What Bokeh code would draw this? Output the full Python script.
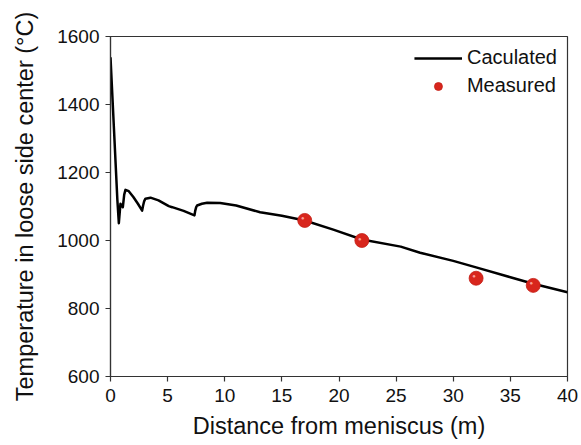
from bokeh.plotting import figure
from bokeh.models import Range1d, Legend, LegendItem, FixedTicker
from bokeh.embed import file_html
from bokeh.resources import INLINE

# Calculated curve
calc_x = [0, 0.3, 0.6, 0.73, 0.87, 1.08, 1.2, 1.31, 1.6, 2.0, 2.4, 2.77, 2.85, 2.95, 3.06, 3.5, 4.2, 5.1, 5.4, 6.4,
          7.35, 7.42, 7.5, 7.58, 8.0, 8.46, 9.6, 11, 13.1, 15, 17, 19.5, 22, 25.4, 27.1, 30, 32, 35, 37, 40]
calc_y = [1539, 1330, 1120, 1051, 1108, 1098, 1135, 1149, 1145, 1128, 1108, 1088, 1102, 1116, 1123, 1126, 1118, 1101, 1098, 1087,
          1074, 1088, 1098, 1103, 1108, 1111, 1110, 1103, 1083, 1073, 1059, 1032, 1003, 982, 964, 940, 921, 892, 873, 848]

# Measured points
meas_x = [17, 22, 32, 37]
meas_y = [1059, 1000, 889, 868]

x_ticks = [0, 5, 10, 15, 20, 25, 30, 35, 40]
y_ticks = [600, 800, 1000, 1200, 1400, 1600]

FONT = "Liberation Sans"

p = figure(width=581, height=445, output_backend="svg", toolbar_location=None,
           x_range=Range1d(0, 40), y_range=Range1d(600, 1600),
           min_border_left=110, min_border_right=14, min_border_top=36, min_border_bottom=69)
p.xgrid.visible = False
p.ygrid.visible = False
p.outline_line_color = "#333333"
p.outline_line_width = 1.2
p.background_fill_color = "white"

for ax in (p.xaxis[0], p.yaxis[0]):
    ax.axis_line_color = "#333333"
    ax.axis_line_width = 1.2
    ax.major_tick_line_color = "#333333"
    ax.major_tick_line_width = 1.2
    ax.major_tick_out = 5
    ax.major_tick_in = 0
    ax.minor_tick_line_color = None
    ax.major_label_text_font = FONT
    ax.major_label_text_font_size = "19px"
    ax.major_label_text_color = "#111111"
    ax.axis_label_text_font = FONT
    ax.axis_label_text_font_size = "23.5px"
    ax.axis_label_text_font_style = "normal"
    ax.axis_label_text_color = "#111111"

p.xaxis[0].ticker = FixedTicker(ticks=x_ticks)
p.yaxis[0].ticker = FixedTicker(ticks=y_ticks)
p.xaxis[0].axis_label = "Distance from meniscus (m)"
p.yaxis[0].axis_label = "Temperature in loose side center (°C)"
p.xaxis[0].major_label_standoff = 7
p.xaxis[0].axis_label_standoff = 8
p.yaxis[0].major_label_standoff = 6
p.yaxis[0].axis_label_standoff = 16

line_r = p.line(calc_x, calc_y, line_color="black", line_width=2.5, line_join="round")
pt_r = p.scatter(meas_x, meas_y, size=14, fill_color="#d8261d", line_color="#c41f17", line_width=0.8)
p.text(meas_x, meas_y, text=["●"] * len(meas_x), x_offset=-2, y_offset=-2,
       text_font_size="6px", text_color="#ffb0a8", text_alpha=0.9,
       text_align="center", text_baseline="middle")

legend = Legend(items=[LegendItem(label="Caculated", renderers=[line_r]),
                       LegendItem(label="Measured", renderers=[pt_r])],
                location="top_right")
legend.label_text_font = FONT
legend.label_text_font_size = "20px"
legend.label_text_color = "#111111"
legend.border_line_alpha = 0
legend.background_fill_alpha = 0
legend.glyph_width = 48
legend.glyph_height = 20
legend.label_standoff = 5
legend.spacing = 5
legend.padding = 4
legend.margin = 6
p.add_layout(legend)

open("out.html", "w").write(file_html(p, INLINE))
